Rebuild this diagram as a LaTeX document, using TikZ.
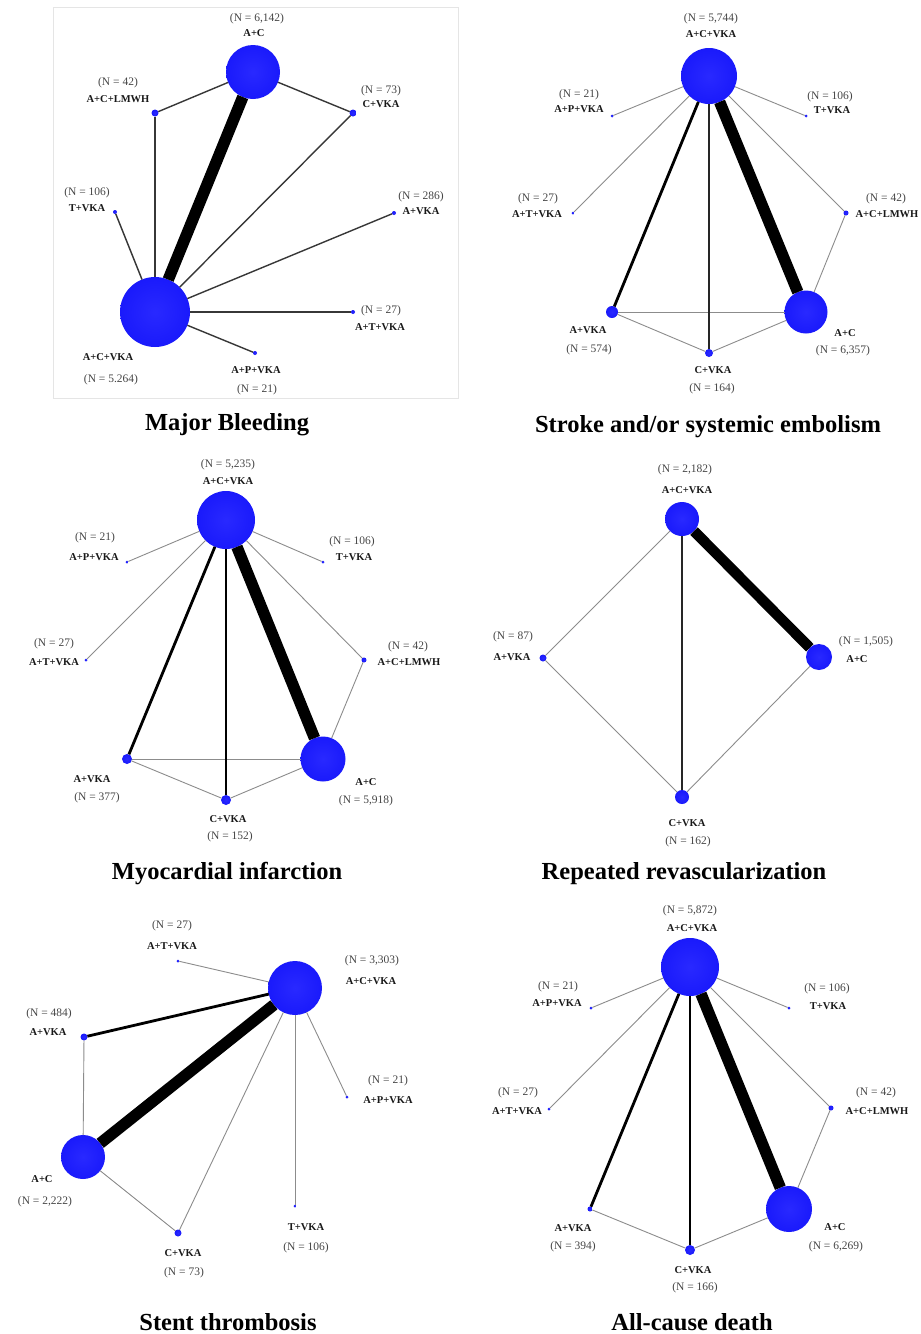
\documentclass[tikz,border=0pt]{standalone}
\usepackage{fontspec}
\setmainfont{Liberation Serif}
\pgfdeclareradialshading{bball}{\pgfpoint{0bp}{0bp}}{rgb(0bp)=(0.16,0.16,1); rgb(34bp)=(0.08,0.08,0.98); rgb(50bp)=(0.04,0.04,0.78)}
\definecolor{labgray}{RGB}{70,70,70}
\definecolor{thingray}{RGB}{140,140,140}
\definecolor{darkline}{RGB}{55,55,55}
\begin{document}
\begin{tikzpicture}[x=1pt,y=-1pt,
  bub/.style={circle,shading=bball,inner sep=0pt,outer sep=0pt,minimum size=#1},
  nlab/.style={inner sep=0pt,text=labgray,font=\fontsize{11.5}{12}\selectfont},
  blab/.style={inner sep=0pt,text=black!90,font=\fontsize{10.5}{11}\selectfont\bfseries},
  ttl/.style={inner sep=0pt,text=black,font=\fontsize{24.5}{26}\selectfont\bfseries},
  thin/.style={draw=thingray,line width=0.9pt},
  dk/.style={draw=darkline,line width=1.4pt},
  mid/.style={draw=black,line width=2.8pt},
  midb/.style={draw=black!85,line width=1.8pt},
  heavy/.style={draw=black,line width=11.5pt}]
\useasboundingbox (0,0) rectangle (921,1334);
\fill[white] (0,0) rectangle (921,1334);
\draw[black!10,line width=0.8pt] (53,7) rectangle (458,398);

% ---------- Panel 1: Major Bleeding
\node[bub=54] (a1) at (253,72) {};
\node[bub=70] (a2) at (155,312) {};
\node[bub=7] (a3) at (155,113) {};
\node[bub=7] (a4) at (353,113) {};
\node[bub=4] (a5) at (115,212) {};
\node[bub=4] (a6) at (394,213) {};
\node[bub=4] (a7) at (353,312) {};
\node[bub=4] (a8) at (255,353) {};
\draw[heavy] (a1) -- (a2);
\draw[dk] (a1) -- (a3);
\draw[dk] (a1) -- (a4);
\draw[dk] (a3) -- (a2);
\draw[dk] (a4) -- (a2);
\draw[dk] (a5) -- (a2);
\draw[dk] (a6) -- (a2);
\draw[dk] (a7) -- (a2);
\draw[dk] (a8) -- (a2);
\node[nlab] (la1n) at (257,19) {(N = 6,142)};
\node[blab] (la1) at (254,33) {A+C};
\node[nlab] (la3n) at (118,83) {(N = 42)};
\node[blab] (la3) at (118,99) {A+C+LMWH};
\node[nlab] (la4n) at (381,91) {(N = 73)};
\node[blab] (la4) at (381,104) {C+VKA};
\node[nlab] (la5n) at (87,193) {(N = 106)};
\node[blab] (la5) at (87,208) {T+VKA};
\node[nlab] (la6n) at (421,197) {(N = 286)};
\node[blab] (la6) at (421,211) {A+VKA};
\node[nlab] (la7n) at (381,311) {(N = 27)};
\node[blab] (la7) at (380,327) {A+T+VKA};
\node[blab] (la2) at (108,357) {A+C+VKA};
\node[nlab] (la2n) at (111,380) {(N = 5.264)};
\node[blab] (la8) at (256,370) {A+P+VKA};
\node[nlab] (la8n) at (257,390) {(N = 21)};
\node[ttl] (ta) at (227,425) {Major Bleeding};

% ---------- Panel 2: Stroke
\node[bub=56] (b1) at (709,76) {};
\node[bub=3] (b2) at (612,116) {};
\node[bub=3] (b3) at (806,116) {};
\node[bub=3] (b4) at (573,213) {};
\node[bub=5] (b5) at (846,213) {};
\node[bub=12] (b6) at (612,312) {};
\node[bub=43] (b7) at (806,312) {};
\node[bub=8] (b8) at (709,353) {};
\draw[thin] (b1) -- (b2);
\draw[thin] (b1) -- (b3);
\draw[thin] (b1) -- (b4);
\draw[thin] (b1) -- (b5);
\draw[thin] (b5) -- (b7);
\draw[thin] (b6) -- (b7);
\draw[thin] (b6) -- (b8);
\draw[thin] (b8) -- (b7);
\draw[mid] (b1) -- (b6);
\draw[midb] (b1) -- (b8);
\draw[heavy] (b1) -- (b7);
\node[nlab] (lb1n) at (711,19) {(N = 5,744)};
\node[blab] (lb1) at (711,34) {A+C+VKA};
\node[nlab] (lb2n) at (579,95) {(N = 21)};
\node[blab] (lb2) at (579,109) {A+P+VKA};
\node[nlab] (lb3n) at (830,97) {(N = 106)};
\node[blab] (lb3) at (832,110) {T+VKA};
\node[nlab] (lb4n) at (538,199) {(N = 27)};
\node[blab] (lb4) at (537,214) {A+T+VKA};
\node[nlab] (lb5n) at (886,199) {(N = 42)};
\node[blab] (lb5) at (887,214) {A+C+LMWH};
\node[blab] (lb6) at (588,330) {A+VKA};
\node[nlab] (lb6n) at (589,350) {(N = 574)};
\node[blab] (lb7) at (845,333) {A+C};
\node[nlab] (lb7n) at (843,351) {(N = 6,357)};
\node[blab] (lb8) at (713,370) {C+VKA};
\node[nlab] (lb8n) at (712,389) {(N = 164)};
\node[ttl] (tb) at (708,427) {Stroke and/or systemic embolism};

% ---------- Panel 3: Myocardial infarction
\node[bub=58] (c1) at (226,520) {};
\node[bub=3] (c2) at (127,562) {};
\node[bub=3] (c3) at (323,562) {};
\node[bub=3] (c4) at (86,660) {};
\node[bub=5] (c5) at (364,660) {};
\node[bub=10] (c6) at (127,759) {};
\node[bub=45] (c7) at (323,759) {};
\node[bub=10] (c8) at (226,800) {};
\draw[thin] (c1) -- (c2);
\draw[thin] (c1) -- (c3);
\draw[thin] (c1) -- (c4);
\draw[thin] (c1) -- (c5);
\draw[thin] (c5) -- (c7);
\draw[thin] (c6) -- (c7);
\draw[thin] (c6) -- (c8);
\draw[thin] (c8) -- (c7);
\draw[mid] (c1) -- (c6);
\draw[mid] (c1) -- (c8);
\draw[heavy] (c1) -- (c7);
\node[nlab] (lc1n) at (228,465) {(N = 5,235)};
\node[blab] (lc1) at (228,481) {A+C+VKA};
\node[nlab] (lc2n) at (95,538) {(N = 21)};
\node[blab] (lc2) at (94,557) {A+P+VKA};
\node[nlab] (lc3n) at (352,542) {(N = 106)};
\node[blab] (lc3) at (354,557) {T+VKA};
\node[nlab] (lc4n) at (54,644) {(N = 27)};
\node[blab] (lc4) at (54,662) {A+T+VKA};
\node[nlab] (lc5n) at (408,647) {(N = 42)};
\node[blab] (lc5) at (409,662) {A+C+LMWH};
\node[blab] (lc6) at (92,779) {A+VKA};
\node[nlab] (lc6n) at (97,798) {(N = 377)};
\node[blab] (lc7) at (366,782) {A+C};
\node[nlab] (lc7n) at (366,801) {(N = 5,918)};
\node[blab] (lc8) at (228,819) {C+VKA};
\node[nlab] (lc8n) at (230,837) {(N = 152)};
\node[ttl] (tc) at (227,874) {Myocardial infarction};

% ---------- Panel 4: Repeated revascularization
\node[bub=34] (d1) at (682,519) {};
\node[bub=7] (d2) at (543,658) {};
\node[bub=26] (d3) at (819,657) {};
\node[bub=14] (d4) at (682,797) {};
\draw[thin] (d1) -- (d2);
\draw[thin] (d2) -- (d4);
\draw[thin] (d3) -- (d4);
\draw[midb] (d1) -- (d4);
\draw[heavy,line width=10.5pt] (d1) -- (d3);
\node[nlab] (ld1n) at (685,470) {(N = 2,182)};
\node[blab] (ld1) at (687,490) {A+C+VKA};
\node[nlab] (ld2n) at (513,637) {(N = 87)};
\node[blab] (ld2) at (512,657) {A+VKA};
\node[nlab] (ld3n) at (866,642) {(N = 1,505)};
\node[blab] (ld3) at (857,659) {A+C};
\node[blab] (ld4) at (687,823) {C+VKA};
\node[nlab] (ld4n) at (688,842) {(N = 162)};
\node[ttl] (td) at (684,874) {Repeated revascularization};

% ---------- Panel 5: Stent thrombosis
\node[bub=54] (e1) at (295,988) {};
\node[bub=3] (e2) at (178,961) {};
\node[bub=7] (e3) at (84,1037) {};
\node[bub=3] (e4) at (347,1097) {};
\node[bub=44] (e5) at (83,1157) {};
\node[bub=3] (e6) at (295,1206) {};
\node[bub=7] (e7) at (178,1233) {};
\draw[thin] (e1) -- (e2);
\draw[thin] (e1) -- (e7);
\draw[thin] (e1) -- (e6);
\draw[thin] (e1) -- (e4);
\draw[thin] (e3) -- (e5);
\draw[thin] (e5) -- (e7);
\draw[mid] (e1) -- (e3);
\draw[heavy] (e1) -- (e5);
\node[nlab] (le2n) at (172,926) {(N = 27)};
\node[blab] (le2) at (172,946) {A+T+VKA};
\node[nlab] (le1n) at (372,961) {(N = 3,303)};
\node[blab] (le1) at (371,981) {A+C+VKA};
\node[nlab] (le3n) at (49,1014) {(N = 484)};
\node[blab] (le3) at (48,1032) {A+VKA};
\node[nlab] (le4n) at (388,1081) {(N = 21)};
\node[blab] (le4) at (388,1100) {A+P+VKA};
\node[blab] (le5) at (42,1179) {A+C};
\node[nlab] (le5n) at (45,1202) {(N = 2,222)};
\node[blab] (le6) at (306,1227) {T+VKA};
\node[nlab] (le6n) at (306,1248) {(N = 106)};
\node[blab] (le7) at (183,1253) {C+VKA};
\node[nlab] (le7n) at (184,1273) {(N = 73)};
\node[ttl] (te) at (228,1322) {Stent thrombosis};

% ---------- Panel 6: All-cause death
\node[bub=58] (f1) at (690,967) {};
\node[bub=3] (f2) at (591,1008) {};
\node[bub=3] (f3) at (789,1008) {};
\node[bub=3] (f4) at (549,1109) {};
\node[bub=5] (f5) at (831,1108) {};
\node[bub=5] (f6) at (590,1209) {};
\node[bub=46] (f7) at (789,1209) {};
\node[bub=10] (f8) at (690,1250) {};
\draw[thin] (f1) -- (f2);
\draw[thin] (f1) -- (f3);
\draw[thin] (f1) -- (f4);
\draw[thin] (f1) -- (f5);
\draw[thin] (f5) -- (f7);
\draw[thin] (f6) -- (f8);
\draw[thin] (f8) -- (f7);
\draw[mid] (f1) -- (f6);
\draw[mid] (f1) -- (f8);
\draw[heavy] (f1) -- (f7);
\node[nlab] (lf1n) at (690,911) {(N = 5,872)};
\node[blab] (lf1) at (692,928) {A+C+VKA};
\node[nlab] (lf2n) at (558,987) {(N = 21)};
\node[blab] (lf2) at (557,1003) {A+P+VKA};
\node[nlab] (lf3n) at (827,989) {(N = 106)};
\node[blab] (lf3) at (828,1006) {T+VKA};
\node[nlab] (lf4n) at (518,1093) {(N = 27)};
\node[blab] (lf4) at (517,1111) {A+T+VKA};
\node[nlab] (lf5n) at (876,1093) {(N = 42)};
\node[blab] (lf5) at (877,1111) {A+C+LMWH};
\node[blab] (lf6) at (573,1228) {A+VKA};
\node[nlab] (lf6n) at (573,1247) {(N = 394)};
\node[blab] (lf7) at (835,1227) {A+C};
\node[nlab] (lf7n) at (836,1247) {(N = 6,269)};
\node[blab] (lf8) at (693,1270) {C+VKA};
\node[nlab] (lf8n) at (695,1288) {(N = 166)};
\node[ttl] (tf) at (692,1322) {All-cause death};
\end{tikzpicture}
\end{document}
